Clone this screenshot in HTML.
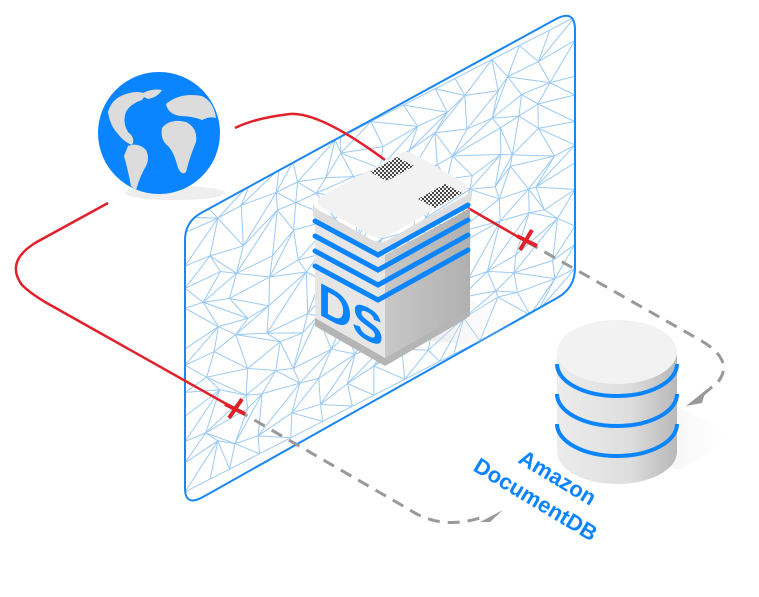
<!DOCTYPE html>
<html><head><meta charset="utf-8"><style>
html,body{margin:0;padding:0;background:#fff;width:759px;height:597px;overflow:hidden}
svg{display:block}
</style></head><body>
<svg id="s" width="759" height="597" viewBox="0 0 759 597" xmlns="http://www.w3.org/2000/svg">
<defs>
<clipPath id="pc"><path d="M185,240 Q185,222 201,213 L556,19 Q575,9 575,30 L575,268 Q575,288 557,298 L203,497 Q185,507 185,488 Z"/></clipPath>
<linearGradient id="cyl" x1="0" x2="1"><stop offset="0" stop-color="#ececec"/><stop offset="0.6" stop-color="#dedede"/><stop offset="1" stop-color="#b8b8b8"/></linearGradient>
<linearGradient id="rf" x1="0" x2="1"><stop offset="0" stop-color="#c8c8c8"/><stop offset="1" stop-color="#b0b0b0"/></linearGradient>
<linearGradient id="sh" x1="0" x2="1" y1="0" y2="0"><stop offset="0" stop-color="#ccc" stop-opacity=".8"/><stop offset="1" stop-color="#fff" stop-opacity="0"/></linearGradient>
<pattern id="dots" width="4" height="4" patternUnits="userSpaceOnUse"><rect width="2" height="2" fill="#444"/><rect x="2" y="2" width="2" height="2" fill="#444"/></pattern>
</defs>
<g id="mesh" clip-path="url(#pc)" stroke="#9ccaf3" stroke-width="1" fill="none"></g>
<path d="M185,240 Q185,222 201,213 L556,19 Q575,9 575,30 L575,268 Q575,288 557,298 L203,497 Q185,507 185,488 Z" fill="none" stroke="#1a86f0" stroke-width="2"/>

<g fill="none" stroke="#999" stroke-width="3" stroke-dasharray="12,8">
<path d="M527,242 L700,340 Q735,360 718,382 L700,397"/>
<path d="M237,410 L410,510 Q440,530 480,518"/>
</g>
<path d="M686,406 L706,390 L702,403 Z" fill="#999"/>
<path d="M480,522 L503,510 L490,522 Z" fill="#999"/>

<g fill="none" stroke="#e0202a" stroke-width="2.5">
<path d="M235,128 Q255,118 290,114 Q320,112 385,160"/>
<path d="M468,208 L527,242"/>
<path d="M108,203 L35,243 Q5,262 22,285 Q30,293 45,302 L237,410"/>
</g>
<g stroke="#e0202a" stroke-width="4">
<line x1="520" y1="250" x2="532" y2="230"/><line x1="517" y1="236" x2="537" y2="246"/>
<line x1="229" y1="418" x2="242" y2="399"/><line x1="225" y1="404" x2="245" y2="414"/>
</g>

<ellipse cx="175" cy="193" rx="50" ry="7" fill="#eee"/>
<circle cx="159" cy="133" r="61" fill="#0a84ff"/>
<g fill="#dcdcdc">
<path d="M108,112 Q112,98 126,94 Q138,90 146,94 L142,100 Q130,104 126,112 Q122,122 128,132 Q136,138 132,145 Q124,142 118,134 Q110,126 108,112 Z"/>
<path d="M140,95 Q150,88 162,90 Q158,97 148,99 Z"/>
<path d="M128,146 Q138,142 146,150 Q150,158 146,166 Q140,176 136,190 L131,186 Q128,170 124,156 Z"/>
<path d="M162,128 Q170,118 186,122 Q198,128 196,142 Q190,156 186,172 Q182,176 178,168 Q174,152 168,146 Q160,140 162,128 Z"/>
<path d="M166,104 Q180,92 202,96 Q214,102 216,118 Q210,116 202,120 Q192,116 180,116 Q168,114 166,104 Z"/>
</g>

<path d="M470,300 L520,330 L470,345 L420,340 Z" fill="url(#sh)" opacity=".6"/>
<path d="M315,215 L385,255 L385,358 Q385,366 378,362 L321,330 Q315,326 315,318 Z" fill="#e6e6e6"/>
<path d="M385,255 L470,208 L470,310 Q470,317 464,320 L392,362 Q385,366 385,358 Z" fill="url(#rf)"/>
<path d="M315,318 L385,358 L470,310 L470,316 L385,366 L315,326 Z" fill="#b5b5b5"/>
<path d="M322,196 L398,154 Q406,150 414,154 L463,182 Q472,188 463,193 L388,236 Q380,240 372,236 L322,208 Q313,202 322,196 Z" fill="#f2f2f2"/>
<path d="M313,202 L313,214 Q313,220 322,224 L372,250 Q380,254 388,250 L465,207 Q472,203 472,196 L472,188 Q472,192 463,197 L388,240 Q380,244 372,240 L322,212 Q313,208 313,202 Z" fill="#dedede"/>
<path d="M370,172 L397,157 L414,166 L387,181 Z" fill="url(#dots)"/>
<path d="M418,199 L445,184 L462,193 L435,208 Z" fill="url(#dots)"/>
<g fill="none" stroke="#0a84ff" stroke-width="5" stroke-linecap="round">
<path d="M315,221 L378,255 L468,205"/>
<path d="M315,236 L378,270 L468,220"/>
<path d="M315,251 L378,285 L468,235"/>
<path d="M315,266 L378,300 L468,250"/>
</g>
<text transform="translate(318,314) matrix(1,0.53,0,1,0,0)" font-family="Liberation Sans,sans-serif" font-weight="bold" font-size="47" fill="#0a84ff">DS</text>

<path d="M660,400 L740,435 L680,470 L630,460 Z" fill="url(#sh)" opacity=".6"/>
<path d="M557,352 L557,452 A60,32 0 0 0 677,452 L677,352 Z" fill="url(#cyl)"/>
<ellipse cx="617" cy="352" rx="60" ry="32" fill="#f2f2f2"/>
<g fill="none" stroke="#0a84ff" stroke-width="4">
<path d="M557,364 A60,32 0 0 0 677,364"/>
<path d="M557,394 A60,32 0 0 0 677,394"/>
<path d="M557,424 A60,32 0 0 0 677,424"/>
</g>
<g font-family="Liberation Sans,sans-serif" font-weight="bold" font-size="22" fill="#0a84ff">
<text transform="translate(517,462) rotate(31)">Amazon</text>
<text transform="translate(472,470) rotate(31)">DocumentDB</text>
</g>
</svg>
<script>
(function(){
var g=document.getElementById('mesh');var ns='http://www.w3.org/2000/svg';
var seed=11;function r(){seed=(seed*16807)%2147483647;return seed/2147483647;}
var nu=14,nv=11,P=[];
for(var i=0;i<=nu;i++){P[i]=[];for(var j=0;j<=nv;j++){
var u=i/nu,v=j/nv;
var ju=(i>0&&i<nu)?(r()-.5)*0.06:0, jv=(j>0&&j<nv)?(r()-.5)*0.07:0;
u+=ju;v+=jv;
var x=185+u*390, y=(225-u*200)+v*275 -8;
P[i][j]=[x,y];}}
function L(a,b){var l=document.createElementNS(ns,'line');l.setAttribute('x1',a[0]);l.setAttribute('y1',a[1]);l.setAttribute('x2',b[0]);l.setAttribute('y2',b[1]);g.appendChild(l);}
for(var i=0;i<=nu;i++)for(var j=0;j<=nv;j++){
if(i<nu)L(P[i][j],P[i+1][j]);
if(j<nv)L(P[i][j],P[i][j+1]);
if(i<nu&&j<nv){if(r()<.5)L(P[i][j],P[i+1][j+1]);else L(P[i+1][j],P[i][j+1]);}
}
})();
</script>
</body></html>
